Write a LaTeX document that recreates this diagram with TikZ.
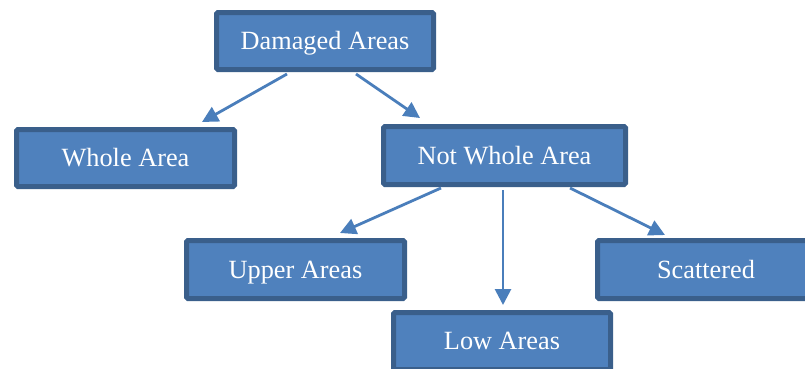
\documentclass[tikz,border=0pt]{standalone}
\usepackage{fontspec}
\setmainfont{Liberation Serif}
\usetikzlibrary{arrows.meta}
\definecolor{boxfill}{HTML}{4F81BD}
\definecolor{boxline}{HTML}{3A5F8B}
\definecolor{arrowc}{HTML}{4A7EBB}
\tikzset{
  box/.style={draw=boxline, fill=boxfill, line width=5pt, rounded corners=1.5pt,
    text=white, inner sep=0pt, minimum height=57pt, text height=17.4pt, text depth=0pt,
    font=\fontsize{26.3}{30}\selectfont},
  conn/.style={draw=arrowc, line width=2.8pt, -{Triangle[length=16pt,width=16pt]}}
}
\begin{document}
\begin{tikzpicture}[x=1pt,y=-1pt]
\useasboundingbox (0,0) rectangle (805,368);
\node[box, minimum width=217pt] (dam) at (325,41) {Damaged Areas};
\node[box, minimum width=218pt] (whole) at (125.5,158) {Whole Area};
\node[box, minimum width=242pt, minimum height=58pt] (notw) at (504.5,155.5) {Not Whole Area};
\node[box, minimum width=218pt, minimum height=58pt] (upper) at (295.5,269.5) {Upper Areas};
\node[box, minimum width=217pt] (low) at (502,341) {Low Areas};
\node[box, minimum width=217pt, minimum height=58pt] (scat) at (706,269.5) {Scattered};
% connector end points
\coordinate (d1) at (287,74);
\coordinate (w1) at (202,122);
\coordinate (d2) at (356,74);
\coordinate (n0) at (420,118);
\coordinate (n1) at (441,188);
\coordinate (u1) at (340,233);
\coordinate (n2) at (503,190);
\coordinate (l1) at (503,305);
\coordinate (n3) at (570,188);
\coordinate (s1) at (665,235);
\draw[conn] (d1) -- (w1);
\draw[conn] (d2) -- (n0);
\draw[conn] (n1) -- (u1);
\draw[conn] (n2) -- (l1);
\draw[conn] (n3) -- (s1);
\end{tikzpicture}
\end{document}
